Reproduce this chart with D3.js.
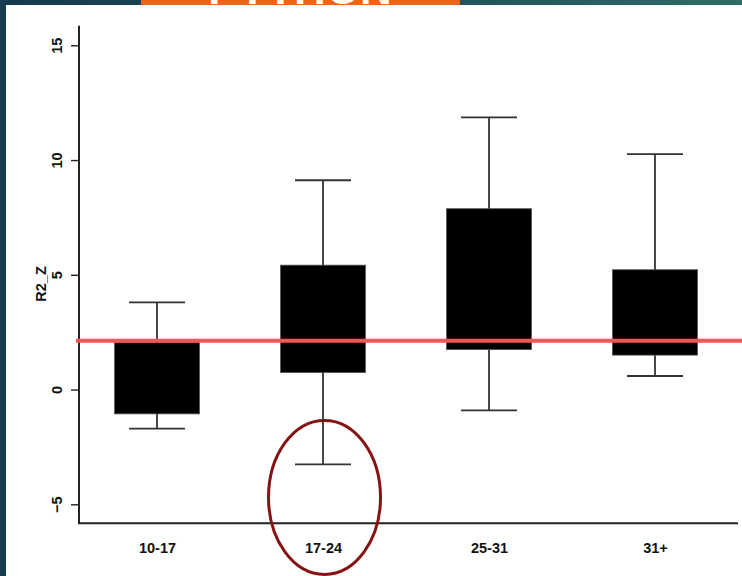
<!DOCTYPE html>
<html>
<head>
<meta charset="utf-8">
<script src="https://cdn.jsdelivr.net/npm/d3@7"></script>
<style>
  html, body { margin: 0; padding: 0; background: #fff; }
  svg { display: block; }
</style>
</head>
<body>
<script>
// Age groups and their box-plot summaries of R2_Z
const categories = ["10-17", "17-24", "25-31", "31+"];
const lowerWhisker = [-1.70, -3.26, -0.91, 0.59];
const q1Values     = [-1.06, 0.74, 1.74, 1.50];
const q3Values     = [2.05, 5.42, 7.88, 5.22];
const upperWhisker = [3.80, 9.12, 11.86, 10.26];
const yTicks = [-5, 0, 5, 10, 15];
const referenceValue = 2.13;
const highlightCategory = "17-24";
const highlightValue = -4.7;

const W = 742, H = 576;
const svg = d3.select("body").append("svg").attr("width", W).attr("height", H);

// slide frame: dark gradient strip on top and left, orange title banner
const defs = svg.append("defs");
const grad = defs.append("linearGradient").attr("id", "topband").attr("x1", "0").attr("x2", "1");
grad.append("stop").attr("offset", "0").attr("stop-color", "#143b4d");
grad.append("stop").attr("offset", "0.55").attr("stop-color", "#1f5059");
grad.append("stop").attr("offset", "1").attr("stop-color", "#2f6c66");
svg.append("rect").attr("x", 0).attr("y", 0).attr("width", W).attr("height", H).attr("fill", "url(#topband)");
svg.append("rect").attr("x", 0).attr("y", 0).attr("width", 6).attr("height", H).attr("fill", "#163e50");
svg.append("rect").attr("x", 6).attr("y", 5).attr("width", W - 6).attr("height", H - 5).attr("fill", "#ffffff");

defs.append("clipPath").attr("id", "bannerClip")
  .append("rect").attr("x", 141).attr("y", 0).attr("width", 319).attr("height", 5);
svg.append("rect").attr("x", 141).attr("y", 0).attr("width", 319).attr("height", 5).attr("fill", "#e8651a");
svg.append("g").attr("clip-path", "url(#bannerClip)")
  .append("text").attr("x", 300).attr("y", 4).attr("text-anchor", "middle")
  .attr("font-family", "Liberation Sans, Arial, sans-serif").attr("font-weight", "bold")
  .attr("font-size", 44).attr("fill", "#ffffff").text("PYTHON");

// scales
const x = d3.scalePoint().domain(categories).range([157, 655]);
const y = d3.scaleLinear().domain([-5, 15]).range([504.3, 45.3]);

const font = "Liberation Sans, Arial, Helvetica, sans-serif";
const fontSize = 14.5;
const plotLeft = 79, plotBottom = y(-5.83), plotTop = y(15.85), plotRight = 738;

// y axis with rotated tick labels
const yAxis = d3.axisLeft(y).tickValues(yTicks).tickSize(8).tickSizeOuter(0).tickFormat(d3.format("d"));
const gy = svg.append("g").attr("transform", `translate(${plotLeft},0)`).call(yAxis);
gy.select(".domain").remove();
gy.selectAll(".tick line").attr("stroke", "#222").attr("stroke-width", 1.4);
gy.selectAll(".tick text")
  .attr("font-family", font).attr("font-size", fontSize).attr("font-weight", "bold").attr("fill", "#111")
  .attr("text-anchor", "middle")
  .attr("transform", "rotate(-90)").attr("x", 0).attr("y", -22).attr("dy", "0.35em");
svg.append("line").attr("x1", plotLeft).attr("x2", plotLeft).attr("y1", plotTop).attr("y2", plotBottom)
  .attr("stroke", "#222").attr("stroke-width", 2);

// x axis
const xAxis = d3.axisBottom(x).tickSize(0).tickPadding(19);
const gx = svg.append("g").attr("transform", `translate(0,${plotBottom})`).call(xAxis);
gx.select(".domain").remove();
gx.selectAll(".tick text").attr("font-family", font).attr("font-size", fontSize)
  .attr("font-weight", "bold").attr("fill", "#111");
svg.append("line").attr("x1", plotLeft - 1).attr("x2", plotRight).attr("y1", plotBottom).attr("y2", plotBottom)
  .attr("stroke", "#222").attr("stroke-width", 2);

// axis title
svg.append("text").attr("transform", `translate(41,${y(4.6)}) rotate(-90)`)
  .attr("text-anchor", "middle").attr("dy", "0.35em")
  .attr("font-family", font).attr("font-size", fontSize).attr("font-weight", "bold").attr("fill", "#111")
  .text("R2_Z");

// boxes and whiskers
const rows = categories.map((c, i) => ({
  c, lw: lowerWhisker[i], q1: q1Values[i], q3: q3Values[i], uw: upperWhisker[i]
}));
const boxHalf = 42.5, capHalf = 28;
const g = svg.append("g");
const item = g.selectAll("g.box").data(rows).join("g").attr("class", "box");
item.append("line")
  .attr("x1", d => x(d.c)).attr("x2", d => x(d.c))
  .attr("y1", d => y(d.uw)).attr("y2", d => y(d.lw))
  .attr("stroke", "#333").attr("stroke-width", 1.8);
item.append("line")
  .attr("x1", d => x(d.c) - capHalf).attr("x2", d => x(d.c) + capHalf)
  .attr("y1", d => y(d.uw)).attr("y2", d => y(d.uw))
  .attr("stroke", "#333").attr("stroke-width", 1.8);
item.append("line")
  .attr("x1", d => x(d.c) - capHalf).attr("x2", d => x(d.c) + capHalf)
  .attr("y1", d => y(d.lw)).attr("y2", d => y(d.lw))
  .attr("stroke", "#333").attr("stroke-width", 1.8);
item.append("rect")
  .attr("x", d => x(d.c) - boxHalf).attr("width", boxHalf * 2)
  .attr("y", d => y(d.q3)).attr("height", d => y(d.q1) - y(d.q3))
  .attr("fill", "#000").attr("stroke", "#555").attr("stroke-width", 0.8);

// reference line
svg.append("line").attr("x1", plotLeft - 3).attr("x2", W)
  .attr("y1", y(referenceValue)).attr("y2", y(referenceValue))
  .attr("stroke", "#ef5656").attr("stroke-width", 4);

// highlight ellipse around the lowest whisker
svg.append("ellipse")
  .attr("cx", x(highlightCategory) + 1.5).attr("cy", y(highlightValue))
  .attr("rx", 56).attr("ry", 77)
  .attr("fill", "none").attr("stroke", "#861314").attr("stroke-width", 3);
</script>
</body>
</html>
